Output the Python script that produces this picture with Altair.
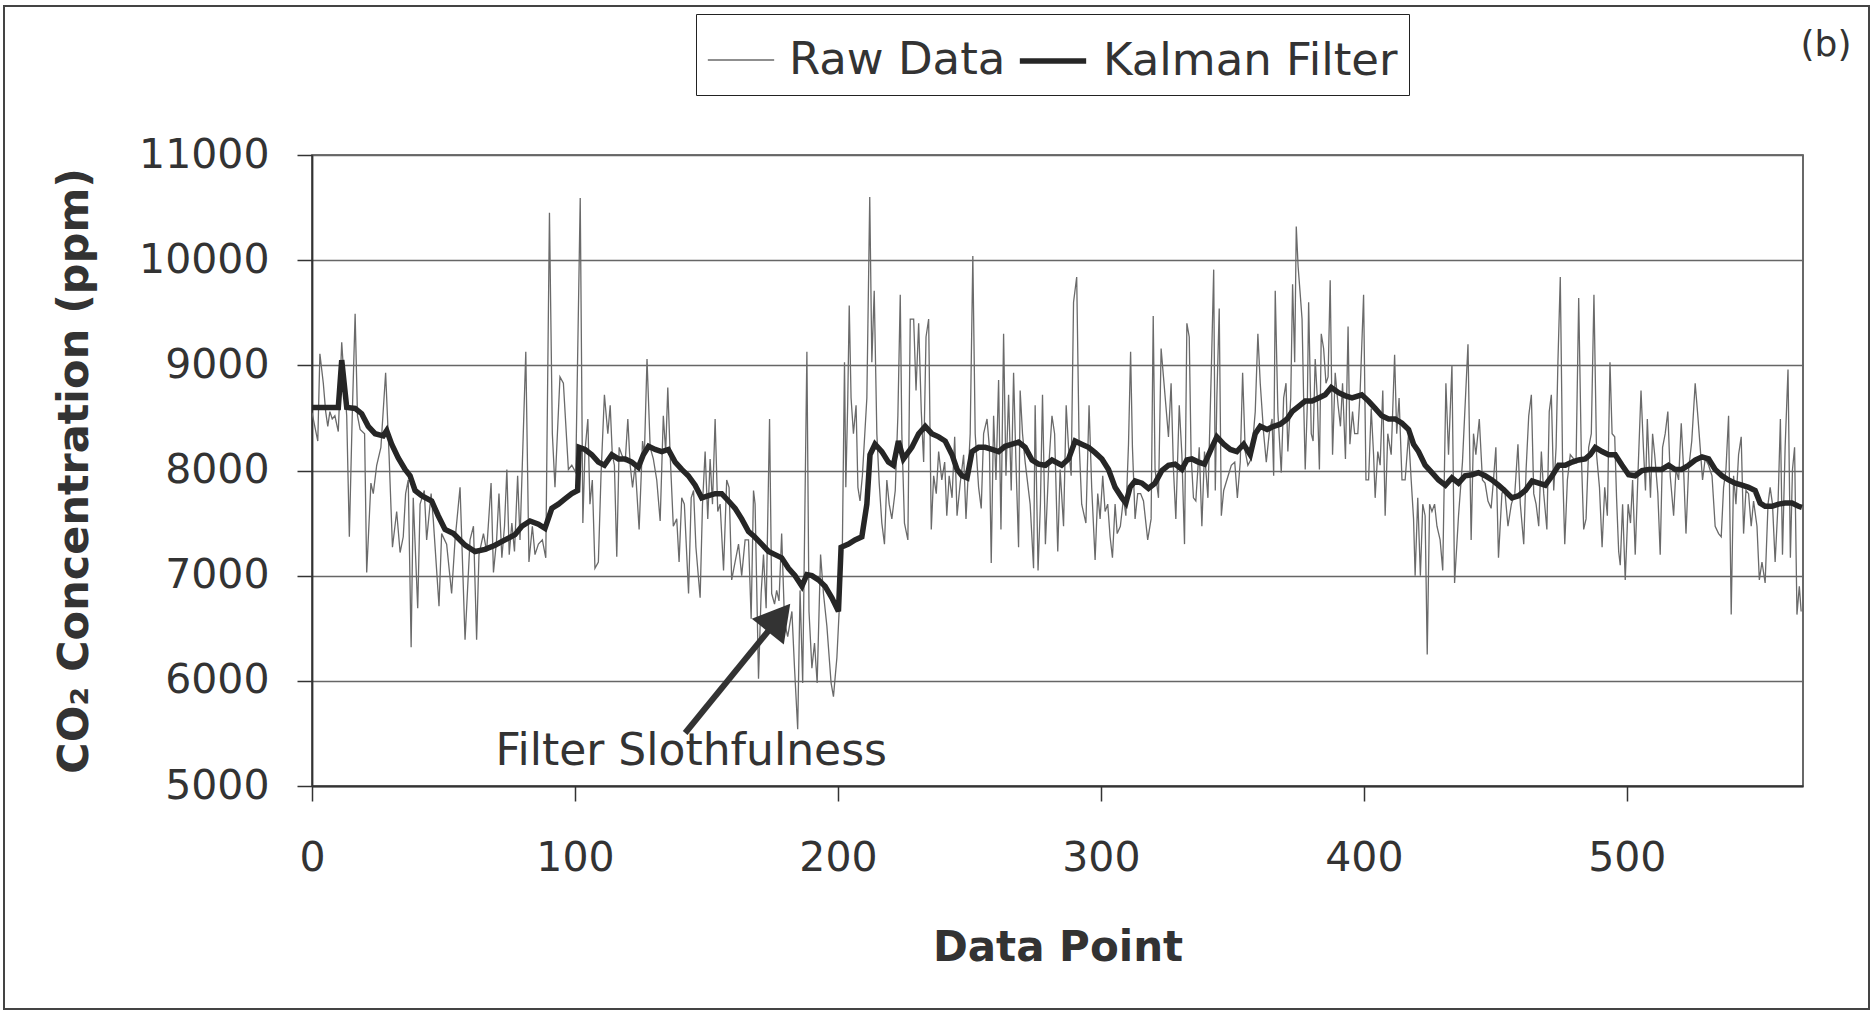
import altair as alt
import pandas as pd

# ---------------- data ----------------
# Raw CO2 readings (data point index, ppm), in segments
raw_seg_1 = [(0, 8550), (2.2, 8280), (3.0, 9110), (4.3, 8830), (5.2, 8560), (6.0, 8420), (6.8, 8560), (7.7, 8490), (8.7, 8520), (10.0, 8370),
             (11.3, 9220), (12.3, 8830), (13.2, 8520), (14.2, 7370), (15.3, 8520), (16.4, 9490), (17.3, 8520), (18.3, 8390), (20.0, 8350), (20.8, 7030),
             (22.4, 7880), (23.3, 7780), (24.6, 8050), (26.2, 8220), (28.0, 8930), (29.3, 8150), (30.6, 7270), (32.2, 7610), (33.5, 7220), (34.7, 7370),
             (35.6, 7780), (36.6, 7910), (37.7, 6320), (38.5, 7740), (40.2, 6690), (41.1, 7680), (42.7, 7810), (43.6, 7340), (45.3, 7780), (46.1, 7540),
             (48.3, 6710), (49.3, 7400), (51.2, 7300), (53.1, 6830)]
raw_seg_2 = [(54.4, 7340), (56.3, 7840), (58.2, 6390), (60.1, 7340), (61.4, 7470), (62.6, 6390), (63.5, 7200), (65.2, 7400), (66.4, 7230), (68.1, 7880),
             (69.0, 7030), (70.2, 7340), (71.1, 7780), (72.2, 7170), (73.2, 7470), (74.1, 8010), (75.0, 7200), (76.0, 7500), (77.0, 7230), (78.2, 7950),
             (79.1, 7340), (81.3, 9130), (82.5, 7130), (83.8, 7470), (84.8, 7200), (86.1, 7300), (87.6, 7340), (88.9, 7170), (90.3, 10450), (91.4, 8350),
             (92.4, 7840), (94.3, 8890), (95.6, 8830), (97.5, 8010), (98.8, 8050), (100.3, 7980), (102.0, 10590), (103.0, 7500), (103.8, 8180), (104.9, 8490),
             (105.7, 7680), (106.6, 7910), (107.6, 7070), (108.9, 7130), (109.9, 7950), (111.2, 8720)]
raw_seg_3 = [(112.5, 8350), (113.4, 8620), (114.2, 8150), (115.0, 8050), (115.9, 7180), (116.8, 8220), (117.8, 8150), (119.1, 8080), (120.1, 8490), (121.0, 8050),
             (121.9, 7840), (122.9, 8050), (124.4, 7440), (125.7, 8280), (126.4, 8150), (127.4, 9060), (128.6, 8220), (129.8, 8110), (131.1, 7910), (132.4, 7520),
             (133.6, 8520), (134.5, 8180), (135.3, 8790), (136.2, 8150), (137.4, 7470), (138.7, 7540), (139.6, 7130), (140.6, 7740), (141.6, 7680), (143.2, 6830),
             (144.2, 7740), (145.1, 7810), (146.0, 7270), (147.6, 6790), (148.5, 7680), (149.5, 8180), (150.5, 7540), (151.4, 8110), (152.3, 7680), (153.3, 8490),
             (154.3, 7610), (155.2, 7680), (156.5, 7050), (157.7, 7910), (158.6, 7840), (159.6, 6960), (160.9, 7130), (162.2, 7300), (163.4, 7000), (164.7, 7340),
             (166.0, 7340), (167.0, 6590), (167.9, 7810)]
raw_seg_4 = [(168.5, 7680), (169.8, 6020), (170.8, 6830), (171.7, 7200), (172.7, 6690), (174.0, 8490), (174.8, 6830), (175.9, 6730), (176.7, 6860), (177.6, 6760),
             (178.6, 7400), (179.7, 6560), (180.9, 6420), (182.5, 6660), (183.5, 6120), (184.7, 5540), (185.6, 6860), (186.6, 5980), (188.2, 9130), (189.0, 6660),
             (190.1, 6120), (191.1, 6360), (192.1, 5980), (193.4, 7200), (194.5, 6830), (195.8, 6520), (197.4, 5980), (198.3, 5850), (199.6, 6220), (200.8, 6830),
             (201.7, 7300), (202.5, 9030), (203.0, 7840), (203.7, 8620), (204.3, 9570), (205.0, 8690), (205.9, 8350), (206.9, 8620), (207.6, 7840), (208.4, 7710),
             (209.3, 7950), (211.0, 8690), (212.1, 10600), (212.9, 9030), (213.8, 9710), (214.8, 8350), (215.7, 7880), (216.7, 7500), (217.7, 7300), (218.6, 7910),
             (219.5, 7680), (220.5, 7540), (221.8, 7810), (222.8, 8520), (223.7, 9670), (224.3, 8350), (225.3, 7500)]
raw_seg_5 = [(226.6, 7340), (227.5, 9440), (228.8, 9440), (229.7, 8760), (230.7, 9400), (231.7, 8560), (232.6, 8080), (233.5, 9270), (234.5, 9440), (235.5, 7440),
             (236.4, 7950), (237.4, 7780), (238.3, 8180), (239.5, 7910), (240.6, 8080), (241.4, 7570), (242.3, 7950), (243.4, 7740), (244.4, 8320), (245.3, 7570),
             (246.5, 7880), (247.8, 8150), (248.7, 7540), (250.3, 8350), (251.3, 10040), (252.2, 8350), (253.5, 7840), (254.5, 7640), (255.4, 8350), (256.7, 8490),
             (257.6, 8220), (258.3, 7120), (259.2, 8520), (260.1, 7910), (261.1, 8860), (262.0, 7440), (263.0, 9300), (263.9, 7950), (264.9, 8720), (265.9, 7810),
             (266.8, 8930), (267.7, 8080), (268.7, 7270), (269.3, 8760), (270.2, 8350), (271.2, 8080), (273.1, 7680), (274.4, 7070), (275.0, 8620), (276.1, 7050),
             (277.0, 7680), (277.8, 8720), (278.9, 7300), (280.1, 8010), (281.4, 8520), (282.4, 8350)]
raw_seg_6 = [(283.6, 7230), (284.5, 8010), (285.8, 7470), (286.8, 8620), (287.7, 8220), (288.7, 7950), (289.6, 9600), (290.8, 9840), (291.7, 8280), (292.7, 7680),
             (294.3, 7500), (295.5, 8620), (296.5, 7840), (297.8, 7150), (298.8, 7780), (299.7, 7540), (300.7, 7950), (301.6, 7610), (302.6, 7680), (303.5, 7370),
             (304.4, 7170), (305.4, 7680), (306.2, 7400), (307.4, 7470), (308.6, 7740), (309.5, 7570), (310.5, 8250), (311.3, 9130), (312.0, 8220), (313.0, 7540),
             (314.0, 7780), (315.1, 7780), (316.2, 7710), (317.8, 7340), (319.1, 7540), (319.9, 9470), (320.6, 8010), (321.9, 7740), (322.9, 9160), (323.8, 8890),
             (324.7, 8620), (325.7, 8320), (326.7, 8830), (327.6, 8010), (328.5, 7540), (329.8, 8620), (330.8, 8150), (331.8, 7300), (332.7, 9400), (333.6, 9270),
             (334.3, 8150), (335.2, 7740), (336.1, 7710), (337.4, 8220), (338.4, 7470), (339.4, 8180)]
raw_seg_7 = [(340.7, 7740), (342.0, 8960), (342.9, 9910), (343.5, 7810), (344.1, 8690), (345.0, 9540), (345.8, 7570), (346.7, 7810), (347.9, 7910), (349.6, 8050),
             (350.9, 8080), (351.9, 7740), (353.0, 8080), (353.9, 8930), (354.9, 8180), (355.9, 8050), (357.2, 8110), (358.7, 8560), (359.7, 9300), (360.6, 8830),
             (361.9, 8350), (362.9, 8080), (364.0, 8350), (365.1, 8490), (365.7, 7950), (366.3, 9710), (367.3, 8560), (368.6, 7980), (369.5, 8690), (370.4, 8830),
             (371.1, 8180), (372.2, 8690), (372.9, 9770), (373.7, 9030), (374.3, 10320), (375.0, 9940), (375.7, 9710), (376.5, 9440), (377.2, 8560), (377.7, 8010),
             (378.5, 8620), (379.0, 9600), (380.0, 8350), (380.7, 8280), (381.5, 9060), (382.3, 8690), (383.1, 8010), (383.8, 9300), (384.7, 9160), (385.6, 8830),
             (386.4, 8890), (387.2, 9810), (388.1, 8150), (389.1, 8930), (390.2, 8620), (391.1, 8420), (391.9, 8830), (393.0, 8110), (394.0, 9370), (394.7, 8250),
             (395.7, 8560), (396.5, 8350)]
raw_seg_8 = [(397.7, 8350), (398.6, 8760), (399.9, 9670), (400.8, 7910), (401.8, 7910), (402.8, 8590), (403.7, 8150), (404.3, 7740), (405.3, 8180), (406.2, 8050),
             (407.2, 8760), (408.1, 7570), (409.1, 8350), (410.4, 8150), (411.7, 9100), (412.5, 8350), (413.4, 8690), (414.5, 7910), (415.7, 7910), (417.0, 8350),
             (418.0, 7910), (418.9, 7540), (419.5, 7000), (420.5, 7740), (421.5, 7000), (422.4, 7680), (423.3, 7570), (424.1, 6250), (425.0, 7680), (425.9, 7610),
             (426.9, 7680), (427.8, 7470), (429.0, 7340), (430.0, 7050), (431.2, 8830), (432.2, 8150), (433.5, 9000), (434.5, 6930), (436.0, 7570), (437.5, 8080),
             (439.6, 9200), (440.8, 7340), (441.7, 8350), (442.6, 8150), (443.9, 8490), (445.1, 7910), (446.1, 7880), (447.2, 7710), (448.4, 7640), (449.3, 7910),
             (450.2, 8220), (451.2, 7170), (452.5, 7780), (453.5, 7840)]
raw_seg_9 = [(454.8, 7470), (456.1, 7680), (457.4, 7780), (458.6, 8250), (459.5, 7680), (460.8, 7300), (461.7, 8010), (462.7, 8520), (463.7, 8720), (464.6, 7780),
             (465.5, 7680), (466.5, 7470), (467.5, 8180), (468.4, 7780), (469.6, 7440), (470.5, 8560), (471.3, 8720), (472.2, 7810), (473.1, 8220), (473.8, 9030),
             (474.7, 9840), (475.6, 8010), (476.4, 7300), (477.4, 7910), (478.5, 8150), (479.8, 8110), (480.7, 8080), (481.7, 9640), (482.7, 8150), (483.6, 7440),
             (484.5, 7540), (485.5, 8220), (486.5, 8350), (487.5, 9670), (488.5, 8150), (489.6, 7840), (490.6, 7270), (491.6, 7840), (492.6, 7570), (493.6, 9030),
             (494.4, 8350), (495.4, 8320), (496.1, 7740), (496.9, 7230), (497.5, 7100), (498.4, 7680), (499.4, 6960), (500.5, 7680), (501.4, 7500), (502.2, 7910),
             (503.2, 7200), (504.3, 8010), (505.4, 8760), (506.3, 8220), (507.1, 7810), (507.8, 8490), (509.0, 7740), (509.8, 8350), (510.6, 8150)]
raw_seg_10 = [(511.8, 7780), (512.7, 7200), (513.6, 8220), (514.6, 8350), (515.6, 8560), (516.5, 7950), (517.8, 7570), (518.7, 8010), (519.7, 7910), (520.7, 8450),
              (521.6, 8010), (522.5, 7400), (523.5, 8010), (524.7, 8280), (526.0, 8830), (527.0, 8520), (527.9, 8220), (528.8, 7910), (529.8, 8110), (531.1, 8050),
              (532.4, 7950), (533.6, 7470), (534.9, 7400), (535.9, 7370), (536.8, 7840), (537.7, 8010), (538.7, 8520), (539.7, 6630), (540.6, 7950), (541.5, 7680),
              (542.5, 8150), (543.5, 8320), (544.4, 7400), (545.3, 7810), (546.3, 7780), (547.3, 7470), (548.2, 7710), (549.5, 7470), (550.4, 6960), (551.4, 7130),
              (552.6, 6930), (553.7, 7680), (554.5, 7840), (555.4, 7680), (556.4, 7130), (557.5, 7680), (558.4, 8490), (559.2, 7200), (560.2, 8220), (561.3, 8960),
              (562.2, 7170), (563.0, 8010), (563.8, 8220), (564.7, 6630), (565.6, 6900), (566.3, 6660)]

# Kalman filter estimate
kalman_index = [
    0, 10, 11.3, 13.2, 16.4, 18.9, 21.4, 24, 27.1, 28.4,
    30.3, 32.8, 35.4, 37.3, 39.2, 41.7, 45.5, 48, 50.6, 53.8,
    58.2, 62, 65.8, 69.6, 73.4, 77.2, 79.8, 82.9, 86.1, 88.6,
    91.2, 93.7, 96.2, 98.8, 101, 101.6, 103.8, 106.4, 108.9, 111.2,
    114, 116.5, 119.1, 121.6, 124.1, 126, 128, 130.5, 133, 135.5,
    138.1, 140.6, 143.1, 145.7, 148.2, 150.8, 153.3, 155.8, 158.4, 160.9,
    163.4, 166, 168.3, 171, 173.6, 176.1, 178.6, 181.2, 183.7, 186.3,
    188.2, 190.1, 192.6, 195.1, 197.7, 200.2, 201.2, 204, 206.5, 209.1,
    211, 212.2, 214.1, 216.7, 219.2, 221.1, 223, 224.9, 228.1, 230.7,
    233.2, 235.7, 238.3, 240.8, 243.4, 245.3, 247.2, 249.1, 251, 253.5,
    256, 258.6, 261.1, 263.6, 266.2, 268.7, 271.2, 273.8, 276.3, 278.9,
    281.4, 285.1, 287.7, 290.2, 292.7, 295.3, 297.8, 300.4, 302.9, 305.4,
    308, 309.5, 311.1, 313, 315.6, 318.1, 320.6, 323.2, 325.7, 328.2,
    330.8, 332.7, 334.6, 337.1, 339.4, 342.2, 344.1, 346.7, 349.2, 351.7,
    354.3, 356.8, 358.7, 360.6, 363.2, 365.7, 368.2, 370.8, 372.7, 375.2,
    377.7, 380.3, 382.8, 385.3, 387.6, 390.4, 393, 395.5, 399.2, 401.8,
    404.3, 406.8, 409.4, 411.9, 414.5, 417, 418.9, 420.8, 423.3, 425.9,
    428.4, 431, 433.5, 436, 438.5, 441.1, 443.6, 446.1, 448.7, 451.2,
    453.5, 456.3, 458.9, 461.4, 464, 466.5, 469, 471.6, 474.1, 476.6,
    479.2, 481.7, 484.2, 486.1, 488, 490.6, 493.1, 495.6, 498.2, 500.7,
    503.2, 505.8, 508.3, 510.6, 513.3, 515.9, 518.4, 520.9, 523.5, 526,
    528.6, 531.1, 533.6, 536.2, 538.7, 541.2, 543.8, 546.3, 548.8, 550.7,
    552.6, 555.2, 557.7, 560.2, 562.8, 565.3, 566.6,
]
kalman_ppm = [
    8600, 8600, 9050, 8600, 8590, 8540, 8420, 8350, 8330, 8380,
    8250, 8120, 8010, 7950, 7810, 7760, 7710, 7570, 7440, 7400,
    7290, 7230, 7250, 7290, 7340, 7390, 7470, 7520, 7490, 7450,
    7640, 7680, 7730, 7780, 7810, 8220, 8200, 8150, 8080, 8050,
    8150, 8110, 8110, 8080, 8030, 8150, 8230, 8200, 8180, 8200,
    8080, 8010, 7950, 7860, 7740, 7760, 7780, 7780, 7710, 7640,
    7540, 7420, 7370, 7300, 7230, 7200, 7170, 7070, 7000, 6900,
    7010, 7000, 6960, 6900, 6790, 6660, 7270, 7300, 7340, 7370,
    7680, 8150, 8250, 8180, 8080, 8050, 8280, 8110, 8220, 8350,
    8420, 8350, 8320, 8280, 8150, 8010, 7950, 7930, 8180, 8220,
    8220, 8200, 8180, 8230, 8250, 8270, 8220, 8100, 8060, 8050,
    8100, 8050, 8110, 8280, 8250, 8220, 8170, 8110, 8010, 7840,
    7740, 7690, 7840, 7900, 7880, 7830, 7880, 8000, 8050, 8060,
    8010, 8100, 8110, 8080, 8060, 8220, 8320, 8250, 8200, 8180,
    8250, 8150, 8350, 8420, 8390, 8420, 8440, 8490, 8560, 8610,
    8660, 8660, 8690, 8720, 8790, 8740, 8710, 8690, 8720, 8660,
    8590, 8520, 8490, 8490, 8450, 8390, 8250, 8180, 8050, 7980,
    7910, 7860, 7930, 7880, 7950, 7960, 7980, 7950, 7910, 7860,
    7810, 7740, 7760, 7810, 7900, 7880, 7860, 7950, 8050, 8050,
    8080, 8100, 8110, 8150, 8220, 8180, 8150, 8150, 8050, 7960,
    7950, 8000, 8010, 8010, 8010, 8050, 8010, 8010, 8050, 8100,
    8130, 8110, 8010, 7950, 7910, 7880, 7860, 7840, 7810, 7690,
    7660, 7660, 7680, 7690, 7690, 7660, 7650,
]

series_names = ["Raw Data", "Kalman Filter"]
series_colors = ["#6a6a6a", "#262626"]
series_widths = [1.3, 5.5]

x_domain = [0, 567]
y_domain = [5000, 11000]
x_ticks = [0, 100, 200, 300, 400, 500]
y_ticks = [5000, 6000, 7000, 8000, 9000, 10000, 11000]

annotation_text = ["Filter Slothfulness"]
annotation_x = [144.2]
annotation_y = [5323]
arrow_x = [141.9, 177.6]
arrow_y = [5504, 6600]
arrow_head_x = [177.6]
arrow_head_y = [6600]
panel_label = ["(b)"]

# ---------------- tables ----------------
raw_pts = (raw_seg_1 + raw_seg_2 + raw_seg_3 + raw_seg_4 + raw_seg_5 +
           raw_seg_6 + raw_seg_7 + raw_seg_8 + raw_seg_9 + raw_seg_10)
raw_df = pd.DataFrame(raw_pts, columns=["x", "y"])
raw_df["series"] = "Raw Data"
raw_df["o"] = range(len(raw_df))
kal_df = pd.DataFrame({"x": kalman_index, "y": kalman_ppm})
kal_df["series"] = "Kalman Filter"
kal_df["o"] = range(len(kal_df))

W, H = 1491, 631
FONT = "DejaVu Sans"
TXT = "#333333"

x_scale = alt.Scale(domain=x_domain, nice=False, zero=False)
y_scale = alt.Scale(domain=y_domain, nice=False, zero=False)
color_scale = alt.Scale(domain=series_names, range=series_colors)
width_scale = alt.Scale(domain=series_names, range=series_widths)

x_axis = alt.Axis(values=x_ticks, title="Data Point", grid=False,
                  tickSize=15, tickColor="#333", tickWidth=1.5,
                  domainColor="#333", domainWidth=1.8,
                  labelFont=FONT, labelFontSize=41, labelColor=TXT, labelPadding=37,
                  labelFlush=False,
                  titleFont=FONT, titleFontSize=42, titleFontWeight="bold", titleColor=TXT,
                  titleBaseline="middle", titleY=161)
y_axis = alt.Axis(values=y_ticks, format="d", title="CO₂ Concentration (ppm)",
                  grid=True, gridColor="#666", gridWidth=1.6,
                  tickSize=15, tickColor="#333", tickWidth=1.5,
                  domainColor="#333", domainWidth=1.8,
                  labelFont=FONT, labelFontSize=41, labelColor=TXT, labelPadding=28,
                  titleFont=FONT, titleFontSize=43, titleFontWeight="bold", titleColor=TXT,
                  titleBaseline="middle", titleX=-238, titleY=H / 2)

legend = alt.Legend(orient="none", legendX=384, legendY=-141, direction="horizontal",
                    title=None, symbolType="stroke", symbolSize=4400,
                    labelFont=FONT, labelFontSize=45, labelColor=TXT,
                    labelOffset=14, columnPadding=2, padding=11,
                    strokeColor="#222", fillColor="white", labelLimit=0)

enc_common = dict(
    x=alt.X("x:Q", scale=x_scale, axis=x_axis),
    y=alt.Y("y:Q", scale=y_scale, axis=y_axis),
    order=alt.Order("o:Q"),
)

raw_layer = alt.Chart(raw_df).mark_line(clip=True, strokeJoin="miter").encode(
    color=alt.Color("series:N", scale=color_scale, legend=legend),
    strokeWidth=alt.StrokeWidth("series:N", scale=width_scale, legend=legend),
    **enc_common,
)
kal_layer = alt.Chart(kal_df).mark_line(clip=True).encode(
    color=alt.Color("series:N", scale=color_scale, legend=legend),
    strokeWidth=alt.StrokeWidth("series:N", scale=width_scale, legend=legend),
    **enc_common,
)

ann_df = pd.DataFrame({"x": annotation_x, "y": annotation_y, "t": annotation_text})
ann_layer = alt.Chart(ann_df).mark_text(font=FONT, fontSize=44, color=TXT,
                                        align="center", baseline="middle").encode(
    x=alt.X("x:Q", scale=x_scale), y=alt.Y("y:Q", scale=y_scale), text="t:N")

arrow_df = pd.DataFrame({"x": arrow_x, "y": arrow_y, "o": [0, 1]})
arrow_layer = alt.Chart(arrow_df).mark_line(color="#333", strokeWidth=6, strokeCap="butt").encode(
    x=alt.X("x:Q", scale=x_scale), y=alt.Y("y:Q", scale=y_scale), order="o:Q")

head_df = pd.DataFrame({"x": arrow_head_x, "y": arrow_head_y})
head_layer = alt.Chart(head_df).mark_point(shape="triangle-up", filled=True, size=1700,
                                           angle=39, color="#333", opacity=1).encode(
    x=alt.X("x:Q", scale=x_scale), y=alt.Y("y:Q", scale=y_scale))

one = pd.DataFrame({"t": panel_label})
frame_layer = alt.Chart(one).mark_rect(fillOpacity=0, stroke="#444", strokeWidth=2).encode(
    x=alt.value(-308), x2=alt.value(1557), y=alt.value(-149), y2=alt.value(854))
panel_layer = alt.Chart(one).mark_text(font=FONT, fontSize=36, color=TXT,
                                       align="center", baseline="middle").encode(
    x=alt.value(1514), y=alt.value(-110), text="t:N")

chart = alt.layer(frame_layer, raw_layer, kal_layer, arrow_layer, head_layer,
                  ann_layer, panel_layer).properties(
    width=W, height=H,
    padding={"left": 312, "top": 155, "right": 71, "bottom": 227},
    autosize=alt.AutoSizeParams(type="none"),
    background="white",
).configure_view(stroke="#444", strokeWidth=1.6)

chart.save("out.html", embed_options={"renderer": "svg", "actions": False})
